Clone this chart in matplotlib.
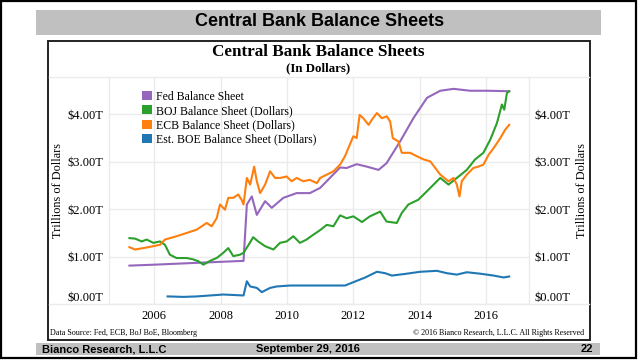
import matplotlib
matplotlib.use('Agg')
import matplotlib.pyplot as plt
from matplotlib.patches import Rectangle, Patch
from matplotlib.lines import Line2D

W, H = 640, 360

# --- data (decimal years, trillions of dollars) ---
fed_x = [2005.25, 2006.0, 2007.0, 2008.0, 2008.69, 2008.79, 2008.94, 2009.09, 2009.34,
         2009.54, 2009.89, 2010.29, 2010.69, 2011.0, 2011.6, 2011.8, 2012.1, 2012.4,
         2012.76, 2013.0, 2013.41, 2013.81, 2014.22, 2014.62, 2015.02, 2015.52, 2016.03,
         2016.70]
fed_y = [0.81, 0.83, 0.86, 0.89, 0.91, 2.10, 2.27, 1.88, 2.17,
         2.03, 2.24, 2.34, 2.34, 2.45, 2.88, 2.87, 2.95, 2.90,
         2.83, 2.97, 3.43, 3.92, 4.35, 4.50, 4.54, 4.50, 4.50,
         4.49]

boj_x = [2005.25, 2005.42, 2005.62, 2005.77, 2005.97, 2006.17, 2006.32, 2006.47, 2006.67,
         2006.98, 2007.18, 2007.33, 2007.48, 2007.68, 2007.88, 2008.08, 2008.23, 2008.38,
         2008.58, 2008.69, 2008.88, 2008.98, 2009.13, 2009.34, 2009.59, 2009.79, 2009.99,
         2010.19, 2010.39, 2010.59, 2010.79, 2011.0, 2011.2, 2011.4, 2011.6, 2011.8,
         2012.0, 2012.26, 2012.5, 2012.81, 2013.0, 2013.31, 2013.46, 2013.66, 2013.96,
         2014.22, 2014.62, 2014.87, 2015.12, 2015.42, 2015.67, 2015.92, 2016.13, 2016.33,
         2016.48, 2016.55, 2016.63, 2016.70]
boj_y = [1.39, 1.38, 1.32, 1.36, 1.29, 1.32, 1.25, 1.04, 0.97,
         0.97, 0.94, 0.90, 0.83, 0.91, 0.97, 1.08, 1.18, 1.01,
         1.04, 1.08, 1.29, 1.41, 1.32, 1.22, 1.15, 1.29, 1.32,
         1.43, 1.29, 1.36, 1.46, 1.56, 1.67, 1.64, 1.87, 1.81,
         1.85, 1.73, 1.85, 1.95, 1.74, 1.71, 1.92, 2.10, 2.20,
         2.38, 2.66, 2.52, 2.66, 2.83, 3.05, 3.19, 3.47, 3.82,
         4.21, 4.10, 4.45, 4.49]

ecb_x = [2005.25, 2005.42, 2005.67, 2005.97, 2006.17, 2006.32, 2006.67, 2006.98, 2007.28,
         2007.58, 2007.73, 2007.88, 2007.98, 2008.13, 2008.23, 2008.38, 2008.53, 2008.63,
         2008.69, 2008.79, 2008.89, 2009.01, 2009.09, 2009.19, 2009.34, 2009.49, 2009.64,
         2009.79, 2009.99, 2010.14, 2010.29, 2010.49, 2010.69, 2010.9, 2011.0, 2011.2,
         2011.4, 2011.6, 2011.75, 2011.85, 2012.0, 2012.1, 2012.19, 2012.3, 2012.46,
         2012.56, 2012.71, 2012.86, 2013.01, 2013.11, 2013.19, 2013.36, 2013.46, 2013.71,
         2013.91, 2014.12, 2014.32, 2014.47, 2014.62, 2014.87, 2015.02, 2015.12, 2015.2,
         2015.27, 2015.42, 2015.62, 2015.77, 2015.92, 2016.08, 2016.23, 2016.43, 2016.58,
         2016.70]
ecb_y = [1.20, 1.15, 1.18, 1.22, 1.25, 1.36, 1.43, 1.50, 1.57,
         1.71, 1.64, 1.81, 2.10, 1.99, 2.24, 2.24, 2.31, 2.20,
         2.10, 2.66, 2.52, 2.90, 2.59, 2.34, 2.52, 2.80, 2.66,
         2.66, 2.69, 2.59, 2.66, 2.59, 2.62, 2.55, 2.66, 2.73,
         2.80, 2.94, 3.12, 3.29, 3.54, 3.50, 3.99, 3.92, 3.78,
         3.89, 4.03, 3.92, 3.96, 3.85, 3.50, 3.43, 3.19, 3.19,
         3.12, 3.05, 3.01, 2.87, 2.73, 2.59, 2.66, 2.52, 2.27,
         2.59, 2.73, 2.87, 2.90, 2.94, 3.15, 3.29, 3.50, 3.68,
         3.78]

boe_x = [2006.40, 2006.88, 2007.28, 2007.68, 2008.08, 2008.69, 2008.79, 2008.89, 2009.09,
         2009.24, 2009.49, 2009.69, 2010.09, 2010.69, 2011.0, 2011.4, 2011.75, 2012.0,
         2012.36, 2012.71, 2012.96, 2013.16, 2013.51, 2014.02, 2014.52, 2014.82, 2015.12,
         2015.42, 2015.82, 2016.23, 2016.53, 2016.70]
boe_y = [0.16, 0.15, 0.16, 0.18, 0.20, 0.18, 0.48, 0.37, 0.34,
         0.25, 0.34, 0.37, 0.39, 0.39, 0.39, 0.39, 0.39, 0.46,
         0.56, 0.68, 0.65, 0.60, 0.63, 0.68, 0.70, 0.65, 0.62,
         0.67, 0.64, 0.60, 0.56, 0.58]

year_ticks = [2006, 2008, 2010, 2012, 2014, 2016]
value_ticks = [0, 1, 2, 3, 4]
value_labels = ['$0.00T', '$1.00T', '$2.00T', '$3.00T', '$4.00T']

series = [
    ('Fed Balance Sheet', fed_x, fed_y, '#9467bd'),
    ('BOJ Balance Sheet (Dollars)', boj_x, boj_y, '#2ca02c'),
    ('ECB Balance Sheet (Dollars)', ecb_x, ecb_y, '#ff7f0e'),
    ('Est. BOE Balance Sheet (Dollars)', boe_x, boe_y, '#1f77b4'),
]

SERIF = 'Liberation Serif'
SANS = 'Liberation Sans'
GRID = '#ebebeb'


def fx(px):
    return px / W


def fy(py):
    return 1 - py / H


fig = plt.figure(figsize=(6.4, 3.6), dpi=100)

# outer border, header and footer bars
fig.add_artist(Rectangle((fx(1), fy(358)), fx(635), 357 / H, transform=fig.transFigure,
                         fill=False, edgecolor='black', linewidth=1.6))
fig.add_artist(Rectangle((fx(36), fy(35)), fx(565), 25 / H, transform=fig.transFigure,
                         facecolor='#c0c0c0', edgecolor='none'))
fig.text(fx(320), fy(22), 'Central Bank Balance Sheets', ha='center', va='center',
         family=SANS, weight='bold', fontsize=13)
fig.add_artist(Rectangle((fx(36), fy(355)), fx(564), 12 / H, transform=fig.transFigure,
                         facecolor='#c0c0c0', edgecolor='none'))
fig.text(fx(42), fy(349), 'Bianco Research, L.L.C', ha='left', va='center',
         family=SANS, weight='bold', fontsize=8)
fig.text(fx(308), fy(349), 'September 29, 2016', ha='center', va='center',
         family=SANS, weight='bold', fontsize=8)
fig.text(fx(593), fy(349), '22', ha='right', va='center',
         family=SANS, weight='bold', fontsize=8)

# chart frame
fig.add_artist(Rectangle((fx(48), fy(340)), fx(542), 299 / H, transform=fig.transFigure,
                         fill=False, edgecolor='#222222', linewidth=1.4))
for y in (77, 304):
    fig.add_artist(Line2D([fx(49), fx(589)], [fy(y), fy(y)], transform=fig.transFigure,
                          color=GRID, linewidth=1))
for x in (109, 529):
    fig.add_artist(Line2D([fx(x), fx(x)], [fy(77), fy(304)], transform=fig.transFigure,
                          color=GRID, linewidth=1))

fig.text(fx(318), fy(52), 'Central Bank Balance Sheets', ha='center', va='center',
         family=SERIF, weight='bold', fontsize=12.3)
fig.text(fx(318), fy(68), '(In Dollars)', ha='center', va='center',
         family=SERIF, weight='bold', fontsize=9.3)

ax = fig.add_axes([fx(109), fy(304), fx(420), 227 / H])
for name, xs, ys, col in series:
    ax.plot(xs, ys, color=col, linewidth=1.5, label=name)

ax.set_xlim(2004.634, 2017.296)
ax.set_ylim(0, 4.79)
ax.set_xticks(year_ticks)
ax.set_xticklabels([str(y) for y in year_ticks])
ax.set_yticks(value_ticks)
ax.set_yticklabels(value_labels)
ax.grid(True, color=GRID, linewidth=1)
ax.set_axisbelow(True)
for s in ax.spines.values():
    s.set_visible(False)
ax.tick_params(axis='both', length=0, labelsize=9)
ax.tick_params(axis='y', labelright=True, pad=4)
ax.tick_params(axis='x', pad=4)
for lab in ax.get_xticklabels() + ax.get_yticklabels():
    lab.set_family(SERIF)
for t in ax.yaxis.get_major_ticks():
    t.label2.set_family(SERIF)
    t.label2.set_fontsize(9)
z = ax.yaxis.get_major_ticks()[0]
z.label1.set_va('bottom')
z.label2.set_va('bottom')

fig.text(fx(58), fy(190), 'Trillions of Dollars', rotation=90, ha='center', va='center',
         family=SERIF, fontsize=8.8)
fig.text(fx(582), fy(190), 'Trillions of Dollars', rotation=90, ha='center', va='center',
         family=SERIF, fontsize=8.8)

handles = [Patch(facecolor=c, edgecolor='none') for _, _, _, c in series]
leg = ax.legend(handles, [n for n, _, _, _ in series], loc='upper left',
                bbox_to_anchor=(0.079, 0.94), frameon=False, borderpad=0,
                borderaxespad=0, handlelength=0.8, handleheight=0.8,
                handletextpad=0.35, labelspacing=0.2,
                prop={'family': SERIF, 'size': 8.5})

fig.text(fx(50), fy(333), 'Data Source: Fed, ECB, BoJ BoE, Bloomberg', ha='left',
         va='center', family=SERIF, fontsize=5.8)
fig.text(fx(584), fy(333), '\u00a9 2016 Bianco Research, L.L.C. All Rights Reserved',
         ha='right', va='center', family=SERIF, fontsize=5.8)

fig.savefig('out.png', dpi=100)
